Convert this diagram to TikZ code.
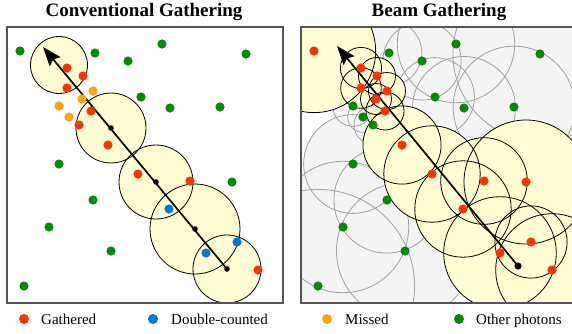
\documentclass[tikz,border=0pt]{standalone}
\usepackage{fontspec}
\setmainfont{Liberation Serif}
\usepackage{xcolor}
\usepackage{tikz}
\usetikzlibrary{
  arrows.meta,
  positioning
}
\definecolor{GatherRed}{RGB}{255, 51, 0}
\definecolor{MissOrange}{RGB}{255, 165, 0}
\definecolor{DoubleBlue}{RGB}{0, 120, 215}
\definecolor{OtherGreen}{RGB}{0, 140, 0}
\definecolor{BeamYellow}{RGB}{255, 253, 210}
\definecolor{PanelGray}{RGB}{244, 244, 244}
\definecolor{RingGray}{RGB}{160, 160, 160}
\definecolor{FrameGray}{RGB}{85, 85, 85}
\tikzset{
    panel/.style={draw=FrameGray, line width=1.4pt},
    ray/.style={line width=1.7pt, -{Stealth[length=19pt, width=14pt, inset=3pt]}},
    title/.style={font=\fontsize{19}{22}\selectfont\bfseries, anchor=base},
    legend/.style={font=\fontsize{15}{18}\selectfont, anchor=base west, inner sep=0pt},
    ring/.style={draw=black, line width=0.8pt},
    grayring/.style={draw=RingGray, line width=0.8pt}
}

\begin{document}
\begin{tikzpicture}[x=1pt, y=-1pt]
            \useasboundingbox (0,0) rectangle (572,333);

            \node[title] (convtitle) at (144,16) {Conventional Gathering};
            \node[title] (beamtitle) at (439,16) {Beam Gathering};

            % conventional gathering
            \foreach \x/\y/\r in {59/65/28.5, 111/128/35, 156/182/37, 195/229/45, 227/269/34}
                \fill[BeamYellow] (\x,\y) circle[radius=\r pt];
            \foreach \x/\y/\r in {59/65/28.5, 111/128/35, 156/182/37, 195/229/45, 227/269/34}
                \draw[ring] (\x,\y) circle[radius=\r pt];
            \coordinate (lend) at (227,269);
            \coordinate (ltip) at (43,47);
            \draw[ray] (lend) -- (ltip);
            \foreach \x/\y in {111/128, 156/182, 195/229, 227/269}
                \fill[black] (\x,\y) circle[radius=2.8pt];
            \foreach \x/\y in {20/51, 95/53, 162/44, 128/61, 246/54, 141/97, 170/108, 220/107, 59/164, 232/182, 93/200, 49/227, 111/251, 24/286}
                \fill[OtherGreen] (\x,\y) circle[radius=4.6pt];
            \foreach \x/\y in {67/68, 83/76, 67/88, 91/111, 79/125, 108/145, 138/174, 190/181, 258/270}
                \fill[GatherRed] (\x,\y) circle[radius=4.6pt];
            \foreach \x/\y in {93/91, 82/99, 59/106, 69/117}
                \fill[MissOrange] (\x,\y) circle[radius=4.6pt];
            \foreach \x/\y in {169/209, 237/242, 206/253}
                \fill[DoubleBlue] (\x,\y) circle[radius=4.6pt];
            \draw[panel] (7,27) rectangle (283,303);

            % beam gathering
            \begin{scope}
                \clip (301,27) rectangle (577,303);
                \foreach \x/\y/\r in {389/53/32.8, 456/44/58.7, 422/61/39.1, 540/54/87.1, 353/106/20.3, 363/117/15.3, 373/125/19.0, 435/97/39.4, 464/108/51.5, 514/107/60.8, 353/164/49.4, 387/200/53.1, 343/227/65.7, 405/251/68.5, 318/286/96.6}
                    \fill[PanelGray] (\x,\y) circle[radius=\r pt];
                \foreach \x/\y/\r in {389/53/32.8, 456/44/58.7, 422/61/39.1, 540/54/87.1, 353/106/20.3, 363/117/15.3, 373/125/19.0, 435/97/39.4, 464/108/51.5, 514/107/60.8, 353/164/49.4, 387/200/53.1, 343/227/65.7, 405/251/68.5, 318/286/96.6}
                    \draw[grayring] (\x,\y) circle[radius=\r pt];
                \foreach \x/\y/\r in {314/51/61.6, 361/68/20.6, 377/76/18.5, 361/88/20.3, 387/91/18.5, 376/99/15.5, 385/111/19.0, 402/145/39.1, 432/174/48.2, 484/181/43.3, 526/182/62.0, 463/209/48.2, 531/242/36.1, 500/253/56.3, 552/270/56.3}
                    \fill[BeamYellow] (\x,\y) circle[radius=\r pt];
                \foreach \x/\y/\r in {314/51/61.6, 361/68/20.6, 377/76/18.5, 361/88/20.3, 387/91/18.5, 376/99/15.5, 385/111/19.0, 402/145/39.1, 432/174/48.2, 484/181/43.3, 526/182/62.0, 463/209/48.2, 531/242/36.1, 500/253/56.3, 552/270/56.3}
                    \draw[ring] (\x,\y) circle[radius=\r pt];
            \end{scope}
            \coordinate (rend) at (518,266);
            \coordinate (rtip) at (337,46);
            \draw[ray] (rend) -- (rtip);
            \fill[black] (rend) circle[radius=3.6pt];
            \foreach \x/\y in {389/53, 456/44, 422/61, 540/54, 353/106, 363/117, 373/125, 435/97, 464/108, 514/107, 353/164, 387/200, 343/227, 405/251, 318/286}
                \fill[OtherGreen] (\x,\y) circle[radius=4.6pt];
            \foreach \x/\y in {314/51, 361/68, 377/76, 361/88, 387/91, 376/99, 385/111, 402/145, 432/174, 484/181, 526/182, 463/209, 531/242, 500/253, 552/270}
                \fill[GatherRed] (\x,\y) circle[radius=4.6pt];
            \draw[panel] (577,303) -- (301,303) -- (301,27) -- (577,27);

            % legend
            \fill[GatherRed] (24,319) circle[radius=5pt];
            \node[legend] (gathered) at (41,324) {Gathered};
            \fill[DoubleBlue] (153,319) circle[radius=5pt];
            \node[legend] (doublecounted) at (171,324) {Double-counted};
            \fill[MissOrange] (327,319) circle[radius=5pt];
            \node[legend] (missed) at (345,324) {Missed};
            \fill[OtherGreen] (459,319) circle[radius=5pt];
            \node[legend] (otherphotons) at (476,324) {Other photons};
        \end{tikzpicture}
\end{document}
